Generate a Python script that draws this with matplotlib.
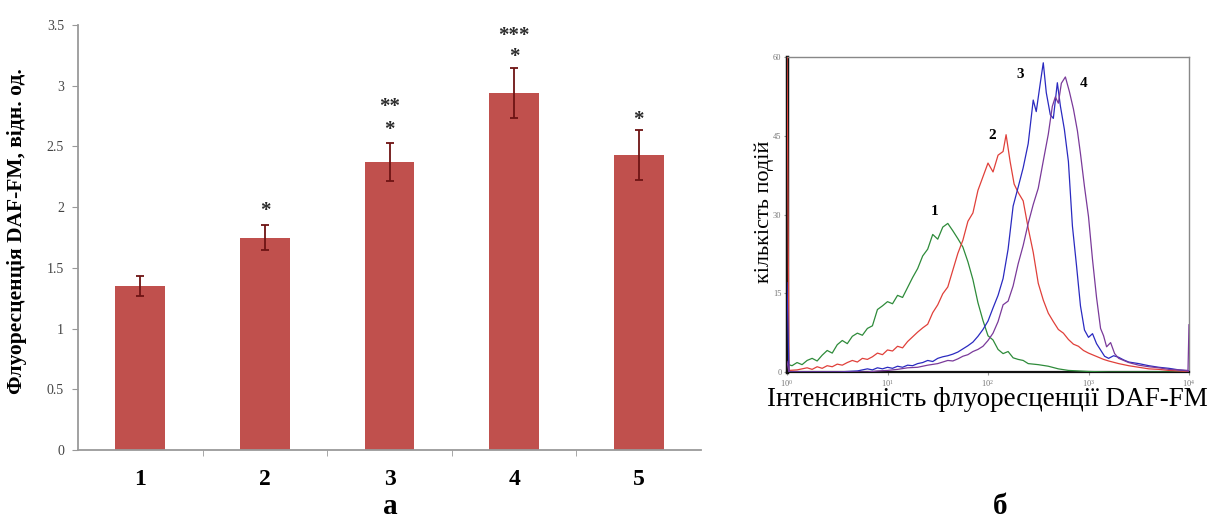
import numpy as np
import matplotlib
matplotlib.use("Agg")
import matplotlib.pyplot as plt
import matplotlib.transforms as mtransforms

plt.rcParams['font.family'] = ['Liberation Serif', 'DejaVu Serif']

# панель а: флуоресценція DAF-FM
groups = ['1', '2', '3', '4', '5']
means = [1.35, 1.75, 2.37, 2.94, 2.43]
errors = [0.085, 0.105, 0.155, 0.205, 0.205]
star_labels = [[], ['*'], ['*', '**'], ['*', '***'], ['*']]
star_heights = [[], [2.03], [2.70, 2.89], [3.30, 3.47], [2.78]]
y_ticks = [0, 0.5, 1, 1.5, 2, 2.5, 3, 3.5]
y_tick_labels = ['0', '0.5', '1', '1.5', '2', '2.5', '3', '3.5']

# панель б: гістограми (log10 інтенсивності, кількість подій)
g_logx = [0.00, 0.05, 0.10, 0.15, 0.20, 0.25, 0.30, 0.35, 0.40, 0.45, 0.50, 0.55, 0.60, 0.65,
          0.70, 0.75, 0.80, 0.85, 0.90, 0.95, 1.00, 1.05, 1.10, 1.15, 1.20, 1.25, 1.30, 1.35,
          1.40, 1.45, 1.50, 1.55, 1.60, 1.65, 1.70, 1.75, 1.80, 1.85, 1.90, 1.95, 2.00, 2.05,
          2.10, 2.15, 2.20, 2.25, 2.30, 2.35, 2.40, 2.50, 2.60, 2.70, 2.80, 2.90, 3.00, 3.20,
          3.50, 4.00]
g_count = [1.5, 1.2, 1.8, 1.4, 2.2, 2.6, 2.1, 3.2, 4.1, 3.6, 5.2, 6.0, 5.4, 6.8,
           7.4, 7.0, 8.3, 8.8, 11.9, 12.6, 13.4, 13.0, 14.6, 14.2, 16.1, 18.0, 19.7, 22.1,
           23.4, 26.2, 25.3, 27.6, 28.3, 26.9, 25.4, 23.8, 21.0, 17.6, 13.2, 9.8, 6.9, 6.1,
           4.3, 3.5, 3.9, 2.7, 2.4, 2.2, 1.6, 1.4, 1.1, 0.6, 0.3, 0.2, 0.1, 0.0,
           0.0, 0.0]

r_logx = [0.00, 0.02, 0.10, 0.20, 0.25, 0.30, 0.35, 0.40, 0.45, 0.50, 0.55, 0.60, 0.65, 0.70,
          0.75, 0.80, 0.85, 0.90, 0.95, 1.00, 1.05, 1.10, 1.15, 1.20, 1.25, 1.30, 1.35, 1.40,
          1.45, 1.50, 1.55, 1.60, 1.65, 1.70, 1.75, 1.80, 1.85, 1.90, 1.95, 2.00, 2.05, 2.10,
          2.15, 2.18, 2.22, 2.26, 2.30, 2.35, 2.40, 2.45, 2.50, 2.55, 2.60, 2.65, 2.70, 2.75,
          2.80, 2.85, 2.90, 2.95, 3.00, 3.05, 3.10, 3.15, 3.20, 3.30, 3.40, 3.50, 3.60, 3.70,
          3.80, 3.90, 4.00]
r_count = [62, 0.3, 0.4, 0.8, 0.5, 1.0, 0.7, 1.2, 1.0, 1.5, 1.3, 1.8, 2.2, 1.9,
           2.6, 2.4, 2.9, 3.6, 3.3, 4.2, 4.0, 4.9, 4.6, 5.8, 6.7, 7.6, 8.4, 9.1,
           11.3, 12.8, 14.9, 16.2, 19.4, 22.6, 25.1, 28.7, 30.3, 34.6, 37.2, 39.8, 38.1, 41.3,
           42.0, 45.2, 40.1, 35.8, 34.2, 32.6, 27.4, 22.8, 16.9, 13.7, 11.2, 9.6, 8.1, 7.4,
           6.2, 5.3, 4.9, 4.1, 3.6, 3.2, 2.8, 2.4, 2.1, 1.6, 1.2, 0.9, 0.6, 0.5,
           0.3, 0.2, 0.1]

b_logx = [0.00, 0.02, 0.50, 0.70, 0.80, 0.85, 0.90, 0.95, 1.00, 1.05, 1.10, 1.15, 1.20, 1.25,
          1.30, 1.35, 1.40, 1.45, 1.50, 1.55, 1.60, 1.65, 1.70, 1.75, 1.80, 1.85, 1.90, 1.95,
          2.00, 2.05, 2.10, 2.15, 2.20, 2.25, 2.30, 2.35, 2.40, 2.45, 2.48, 2.52, 2.55, 2.58,
          2.62, 2.65, 2.69, 2.72, 2.76, 2.80, 2.84, 2.88, 2.92, 2.96, 3.00, 3.04, 3.08, 3.12,
          3.16, 3.20, 3.25, 3.30, 3.35, 3.40, 3.50, 3.60, 3.70, 3.80, 3.90, 4.00]
b_count = [17, 0.0, 0.0, 0.2, 0.6, 0.4, 0.8, 0.6, 0.9, 0.7, 1.1, 0.9, 1.3, 1.2,
           1.6, 1.8, 2.2, 2.0, 2.6, 2.9, 3.1, 3.4, 3.8, 4.4, 5.0, 5.7, 6.8, 8.1,
           9.7, 12.2, 14.6, 17.8, 23.4, 31.6, 35.2, 38.9, 43.5, 51.8, 49.6, 55.0, 58.9, 53.2,
           49.0, 48.3, 55.1, 50.7, 46.2, 40.1, 27.8, 20.4, 12.6, 8.0, 6.6, 7.3, 5.4, 4.2,
           3.0, 2.6, 3.1, 2.8, 2.3, 1.9, 1.6, 1.2, 0.9, 0.7, 0.4, 0.2]

p_logx = [0.00, 0.02, 0.80, 0.90, 1.00, 1.10, 1.20, 1.30, 1.40, 1.50, 1.55, 1.60, 1.65, 1.70,
          1.75, 1.80, 1.85, 1.90, 1.95, 2.00, 2.05, 2.10, 2.15, 2.20, 2.25, 2.30, 2.35, 2.40,
          2.45, 2.50, 2.55, 2.60, 2.64, 2.67, 2.70, 2.73, 2.77, 2.81, 2.85, 2.89, 2.92, 2.96,
          3.00, 3.04, 3.08, 3.12, 3.15, 3.18, 3.22, 3.26, 3.30, 3.35, 3.40, 3.50, 3.60, 3.70,
          3.80, 3.90, 3.99, 4.00]
p_count = [2.0, 0.0, 0.0, 0.2, 0.3, 0.5, 0.8, 0.9, 1.3, 1.6, 1.9, 2.2, 2.1, 2.5,
           3.0, 3.3, 3.9, 4.3, 4.9, 6.0, 7.4, 9.6, 12.8, 13.5, 16.4, 20.6, 24.1, 28.3,
           31.9, 35.0, 40.2, 45.3, 50.6, 52.4, 51.2, 55.0, 56.2, 53.4, 50.1, 45.9, 41.6, 35.3,
           29.6, 21.4, 14.2, 8.3, 6.9, 4.8, 5.6, 3.5, 2.6, 2.2, 1.8, 1.3, 1.0, 0.8,
           0.5, 0.4, 0.3, 9.0]

curve_names = ['1', '2', '3', '4']
curve_label_logx = [1.47, 2.04, 2.32, 2.95]
curve_label_y = [30.5, 45.0, 56.6, 55.0]

fig = plt.figure(figsize=(12.15, 5.26), dpi=100)

# ---- панель а ----
ax1 = fig.add_axes([78 / 1215, 1 - 450 / 526, 623 / 1215, 425 / 526])
x = np.arange(1, len(groups) + 1)
ax1.bar(x, means, width=0.4, color='#c0504d', zorder=2)
ax1.errorbar(x, means, yerr=errors, fmt='none', ecolor='#6e1414', elinewidth=1.3,
             capsize=3, capthick=1.3, zorder=3)
ax1.set_xlim(0.5, len(groups) + 0.5)
ax1.set_ylim(0, 3.5)
ax1.set_yticks(y_ticks)
ax1.set_yticklabels(y_tick_labels, fontsize=10, color='#444444')
ax1.set_xticks(x)
ax1.set_xticklabels(groups, fontsize=17, fontweight='bold')
ax1.set_xticks(np.arange(1.5, len(groups), 1), minor=True)
ax1.tick_params(axis='x', which='major', length=0, pad=14)
ax1.tick_params(axis='x', which='minor', length=4, color='#999999')
ax1.tick_params(axis='y', length=4, color='#999999', pad=6)
for s in ['top', 'right']:
    ax1.spines[s].set_visible(False)
for s in ['left', 'bottom']:
    ax1.spines[s].set_color('#9a9a9a')
    ax1.spines[s].set_linewidth(1.3)

star_trans = mtransforms.offset_copy(ax1.transData, fig=fig, y=-9, units='points')
for xi, labs, hs in zip(x, star_labels, star_heights):
    for lab, h in zip(labs, hs):
        ax1.text(xi, h, lab, ha='center', va='baseline', fontsize=15, fontweight='bold',
                 color='#2a2a2a', transform=star_trans)

fig.text(17 / 1215, 1 - 231 / 526, 'Флуоресценція DAF-FM, відн. од.', rotation=90,
         ha='center', va='center', fontsize=15.5, fontweight='bold')
fig.text(390 / 1215, 1 - 507 / 526, 'а', ha='center', va='center', fontsize=21,
         fontweight='bold')

# ---- панель б ----
ax2 = fig.add_axes([787 / 1215, 1 - 372 / 526, 402 / 1215, 315 / 526])
curves = [(g_logx, g_count, '#2e8b3a'), (r_logx, r_count, '#e0403a'),
          (b_logx, b_count, '#2a2ac0'), (p_logx, p_count, '#7a3a9a')]
for lx, cnt, col in curves:
    ax2.plot(10 ** np.array(lx), cnt, color=col, lw=0.9, zorder=3)
ax2.set_xscale('log')
ax2.set_xlim(1, 1e4)
ax2.set_ylim(0, 60)
ax2.set_yticks([0, 15, 30, 45, 60])
ax2.set_xticks([1, 10, 100, 1000, 10000])
ax2.minorticks_off()
ax2.tick_params(labelsize=6, labelcolor='#777777', length=2, color='#999999', pad=2)
for s in ['top', 'right']:
    ax2.spines[s].set_color('#888888')
    ax2.spines[s].set_linewidth(1.0)
ax2.spines['bottom'].set_color('#111111')
ax2.spines['bottom'].set_linewidth(1.6)
ax2.spines['left'].set_color('#111111')
ax2.spines['left'].set_linewidth(2.5)
for name, lx, ly in zip(curve_names, curve_label_logx, curve_label_y):
    ax2.text(10 ** lx, ly, name, ha='center', va='center', fontsize=11, fontweight='bold')

fig.text(764 / 1215, 1 - 212 / 526, 'кількість подій', rotation=90, ha='center',
         va='center', fontsize=16)
fig.text(987 / 1215, 1 - 400 / 526, 'Інтенсивність флуоресценції DAF-FM', ha='center',
         va='center', fontsize=19.5)
fig.text(1000 / 1215, 1 - 507 / 526, 'б', ha='center', va='center', fontsize=21,
         fontweight='bold')

fig.savefig('out.png', dpi=100)
